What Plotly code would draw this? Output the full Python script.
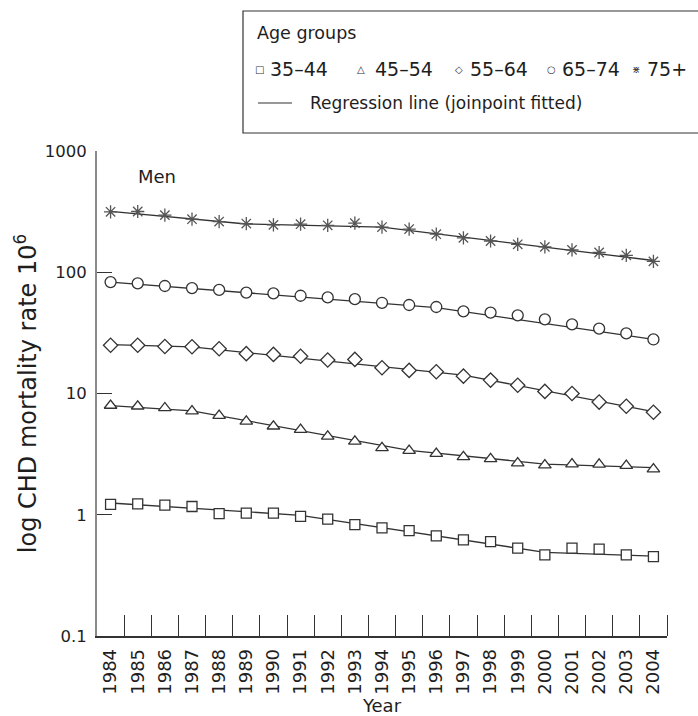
import plotly.graph_objects as go

# ---------------- data ----------------
years = list(range(1984, 2005))

age_35_44 = [1.22, 1.23, 1.20, 1.17, 1.02, 1.03, 1.03, 0.97, 0.92, 0.83, 0.78, 0.74,
             0.67, 0.62, 0.60, 0.53, 0.467, 0.53, 0.52, 0.467, 0.452]
age_45_54 = [7.96, 7.85, 7.6, 7.15, 6.58, 5.9, 5.37, 5.04, 4.43, 4.03, 3.56, 3.38,
             3.19, 3.0, 2.89, 2.67, 2.57, 2.62, 2.60, 2.54, 2.38]
age_55_64 = [25.0, 25.0, 24.4, 24.3, 23.4, 21.3, 21.0, 20.3, 18.9, 19.1, 16.3, 15.5,
             15.1, 13.9, 12.9, 11.7, 10.4, 10.0, 8.5, 7.85, 7.0]
age_65_74 = [83.0, 81.0, 77.0, 74.0, 71.5, 68.0, 67.0, 64.0, 62.0, 60.0, 56.0, 53.7,
             51.7, 47.6, 46.5, 44.1, 40.9, 37.2, 34.3, 31.3, 27.9]
age_75 = [315, 317, 296, 274, 262, 252, 246, 249, 244, 254, 236, 227,
          206, 192, 181, 170, 162, 153, 145.5, 138, 123]

# joinpoint regression vertices (year, fitted value)
jp_35_44_years = [1984, 1991, 2000, 2004]
jp_35_44_vals = [1.25, 0.99, 0.49, 0.455]
jp_45_54_years = [1984, 1987, 1995, 2000, 2004]
jp_45_54_vals = [7.95, 7.2, 3.4, 2.62, 2.45]
jp_55_64_years = [1984, 1987, 1997, 2004]
jp_55_64_vals = [25.3, 24.2, 14.2, 7.1]
jp_65_74_years = [1984, 1996, 2004]
jp_65_74_vals = [83.0, 51.0, 28.0]
jp_75_years = [1984, 1989, 1994, 2004]
jp_75_vals = [318, 250, 236, 125]

group_names = ["35–44", "45–54", "55–64", "65–74", "75+"]
y_tickvals = [0.1, 1, 10, 100, 1000]
y_ticktext = ["0.1", "1", "10", "100", "1000"]

# ---------------- figure ----------------
FONT = "DejaVu Sans"
INK = "#333333"
TXT = "#1e1e1e"

series = [
    (age_35_44, jp_35_44_years, jp_35_44_vals, "square", 10),
    (age_45_54, jp_45_54_years, jp_45_54_vals, "triangle-up", 11),
    (age_55_64, jp_55_64_years, jp_55_64_vals, "diamond", 11),
    (age_65_74, jp_65_74_years, jp_65_74_vals, "circle", 11),
    (age_75, jp_75_years, jp_75_vals, "asterisk-open", 11),
]

fig = go.Figure()

for name, (vals, jy, jv, sym, size) in zip(group_names, series):
    fig.add_trace(go.Scatter(
        x=jy, y=jv, mode="lines", line=dict(color=INK, width=1.3),
        showlegend=False, hoverinfo="skip", name="Regression " + name))
for name, (vals, jy, jv, sym, size) in zip(group_names, series):
    if sym == "asterisk-open":
        mk = dict(symbol=sym, size=size, color="#555555",
                  line=dict(color="#555555", width=1.3))
    else:
        mk = dict(symbol=sym, size=size, color="white",
                  line=dict(color=INK, width=1.3))
    fig.add_trace(go.Scatter(x=years, y=vals, mode="markers", name=name,
                             showlegend=False, marker=mk))

W, H = 698, 716
L, R, T, B = 97, 31, 151, 80
pw, ph = W - L - R, H - T - B


def px(x):
    return (x - L) / pw


def py(y):
    return (H - B - y) / ph


fig.update_layout(
    width=W, height=H,
    margin=dict(l=L, r=R, t=T, b=B, autoexpand=False),
    paper_bgcolor="white", plot_bgcolor="white",
    font=dict(family=FONT, size=17, color=TXT),
    xaxis=dict(
        range=[years[0] - 0.5, years[-1] + 0.5], automargin=False,
        tickmode="array", tickvals=years, ticktext=[str(y) for y in years],
        tickangle=-90, ticks="", showgrid=False, zeroline=False,
        showline=True, linecolor=INK, linewidth=1.5,
        tickfont=dict(size=18), ticklabelstandoff=4,
        minor=dict(tickmode="array", tickvals=[y + 0.5 for y in years],
                   ticks="inside", ticklen=21, tickwidth=1, tickcolor=INK,
                   showgrid=False),
        title=dict(text="Year", font=dict(size=18), standoff=14),
    ),
    yaxis=dict(
        type="log", range=[-1, 3], tickmode="array", automargin=False,
        tickvals=y_tickvals, ticktext=y_ticktext,
        ticks="inside", ticklen=15, tickwidth=1.3, tickcolor=INK,
        showgrid=False, zeroline=False,
        showline=True, linecolor="#8a8a8a", linewidth=2,
        tickfont=dict(size=16.5), ticklabelstandoff=5,
        title=dict(text="log CHD mortality rate 10<sup>6</sup>", font=dict(size=24), standoff=1),
    ),
)

# legend box
fig.add_shape(type="rect", xref="paper", yref="paper",
              x0=px(243), x1=px(705), y0=py(133), y1=py(11),
              line=dict(color=INK, width=1.2), fillcolor="white")
fig.add_shape(type="line", xref="paper", yref="paper",
              x0=px(258), x1=px(292), y0=py(103), y1=py(103),
              line=dict(color=INK, width=1.2))

ann = [
    ("Age groups", 255, 33, 17.5),
    ("Regression line (joinpoint fitted)", 308, 103, 17),
    ("Men", 136, 176, 18),
]
for text, x, y, s in ann:
    fig.add_annotation(text=text, xref="paper", yref="paper", x=px(x), y=py(y),
                       xanchor="left", yanchor="middle", showarrow=False,
                       font=dict(size=s, family=FONT, color=TXT))

legend_symbols = ["□", "△", "◇", "○", "⋇"]
sym_x = [259.5, 361, 459, 551, 636]
lab_x = [268, 373, 468, 560, 645]
for sym, sx, lab, lx in zip(legend_symbols, sym_x, group_names, lab_x):
    fig.add_annotation(text=sym, xref="paper", yref="paper", x=px(sx), y=py(70),
                       xanchor="center", yanchor="middle", showarrow=False,
                       font=dict(size=10, family="DejaVu Sans", color=INK))
    fig.add_annotation(text=lab, xref="paper", yref="paper", x=px(lx), y=py(69),
                       xanchor="left", yanchor="middle", showarrow=False,
                       font=dict(size=19, family=FONT, color=TXT))

fig.write_html("out.html", config={"displayModeBar": False},
               post_script="document.body.style.margin='0px';document.body.style.overflow='hidden';")
